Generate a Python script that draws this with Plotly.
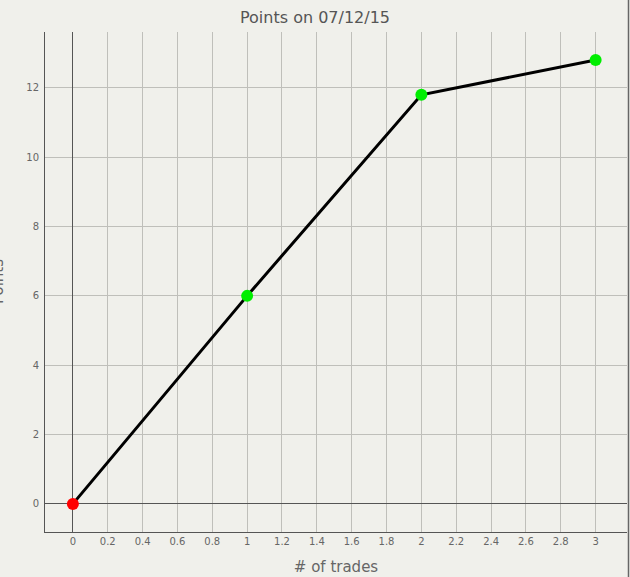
import plotly.graph_objects as go

trades = [0, 1, 2, 3]
points = [0, 6, 11.8, 12.8]
marker_colors = ["#ff0000", "#00ee00", "#00ee00", "#00ee00"]
x_ticks = [round(i * 0.2, 1) for i in range(16)]
x_tick_labels = [("%g" % v) for v in x_ticks]
y_ticks = [0, 2, 4, 6, 8, 10, 12]

bg = "#f0f0eb"
font_family = "Tahoma, Verdana, DejaVu Sans, sans-serif"

fig = go.Figure()
fig.add_trace(go.Scatter(
    x=trades, y=points, mode="lines+markers",
    line=dict(color="#000000", width=3),
    marker=dict(color=marker_colors, size=12, line=dict(width=0)),
    showlegend=False,
))

fig.add_vline(x=2, line=dict(color="#555555", width=1), layer="below")

fig.update_layout(
    width=630, height=577,
    paper_bgcolor=bg, plot_bgcolor=bg,
    margin=dict(l=45, r=3, t=32, b=45),
    font=dict(family=font_family, color="#666666", size=10),
    title=dict(text="Points on 07/12/15", x=0.5, xanchor="center",
               y=1 - 17 / 577, yanchor="middle",
               font=dict(size=16, color="#555555", family=font_family)),
    xaxis=dict(range=[-0.16, 3.18], tickvals=x_ticks, ticktext=x_tick_labels,
               showgrid=True, gridcolor="#bfbfba", gridwidth=1,
               zeroline=True, zerolinecolor="#555555", zerolinewidth=1,
               showline=True, linecolor="#555555", linewidth=1,
               ticks="", ticklen=0,
               title=dict(text="# of trades", standoff=15,
                          font=dict(size=15, color="#666666"))),
    yaxis=dict(range=[-0.81, 13.61], tickvals=y_ticks,
               showgrid=True, gridcolor="#bfbfba", gridwidth=1,
               zeroline=True, zerolinecolor="#555555", zerolinewidth=1,
               showline=True, linecolor="#555555", linewidth=1,
               ticks="outside", ticklen=3, tickcolor=bg),
    annotations=[dict(text="Points", textangle=-90, xref="paper", yref="paper",
                      x=-47 / 582, y=0.5, xanchor="center", yanchor="middle",
                      showarrow=False, font=dict(size=15, color="#666666"))],
    shapes=[dict(type="line", xref="paper", yref="paper",
                 x0=1 + 1.5 / 582, x1=1 + 1.5 / 582, y0=-45 / 500, y1=1 + 32 / 500,
                 line=dict(color="#666666", width=1.5))],
)

fig.write_html(
    "out.html",
    config={"displayModeBar": False},
    post_script="document.body.style.margin='0';document.body.style.overflow='hidden';",
)
